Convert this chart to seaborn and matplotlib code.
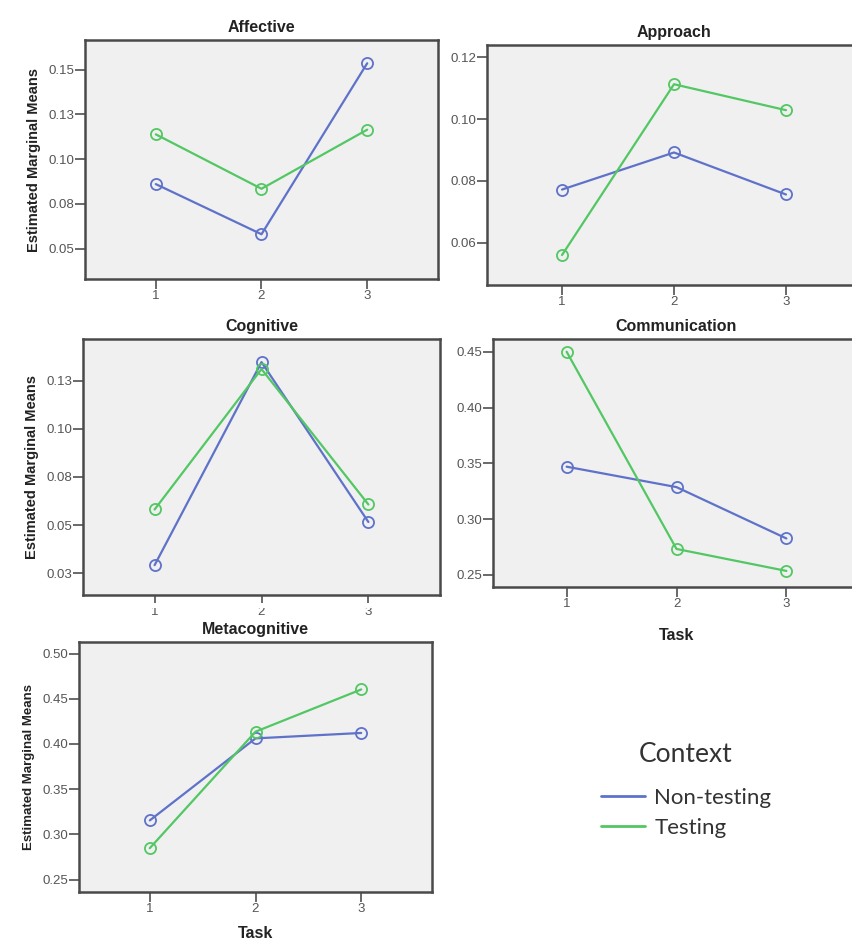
import numpy as np
import matplotlib
matplotlib.use("Agg")
import matplotlib.pyplot as plt
from matplotlib.lines import Line2D
from matplotlib.patches import Rectangle
import pandas as pd
import seaborn as sns

# values
tasks = [1, 2, 3]
contexts = ["Non-testing", "Testing"]

affective_nontest = [0.086, 0.058, 0.1535]
affective_test = [0.1138, 0.0834, 0.1164]
approach_nontest = [0.0772, 0.0892, 0.0756]
approach_test = [0.056, 0.1113, 0.1029]
cognitive_nontest = [0.0292, 0.1346, 0.0516]
cognitive_test = [0.0581, 0.1310, 0.0607]
communication_nontest = [0.347, 0.3287, 0.2827]
communication_test = [0.450, 0.2733, 0.2536]
metacog_nontest = [0.3155, 0.4062, 0.4122]
metacog_test = [0.2848, 0.4136, 0.4603]

# y ticks (SPSS style rounding of labels)
affective_ticks = [0.05, 0.075, 0.10, 0.125, 0.15]
affective_labels = ["0.05", "0.08", "0.10", "0.13", "0.15"]
approach_ticks = [0.06, 0.08, 0.10, 0.12]
approach_labels = ["0.06", "0.08", "0.10", "0.12"]
cognitive_ticks = [0.025, 0.05, 0.075, 0.10, 0.125]
cognitive_labels = ["0.03", "0.05", "0.08", "0.10", "0.13"]
communication_ticks = [0.25, 0.30, 0.35, 0.40, 0.45]
communication_labels = ["0.25", "0.30", "0.35", "0.40", "0.45"]
metacog_ticks = [0.25, 0.30, 0.35, 0.40, 0.45, 0.50]
metacog_labels = ["0.25", "0.30", "0.35", "0.40", "0.45", "0.50"]

colors = {"Non-testing": "#5f72c9", "Testing": "#52c763"}

sns.set_theme(style="white")
plt.rcParams["font.family"] = ["Liberation Sans", "DejaVu Sans"]

W, H = 853, 942
fig = plt.figure(figsize=(W / 100, H / 100), dpi=100)


def px_axes(x0, y0, x1, y1):
    # pixel box -> figure fraction
    return fig.add_axes([x0 / W, 1 - y1 / H, (x1 - x0) / W, (y1 - y0) / H])


def panel(ax, title, nontest, test, ylim, ticks, labels, ylabel=None, xlabel=None):
    df = pd.DataFrame({
        "Task": tasks * 2,
        "Mean": nontest + test,
        "Context": [contexts[0]] * 3 + [contexts[1]] * 3,
    })
    sns.lineplot(data=df, x="Task", y="Mean", hue="Context", palette=colors,
                 marker="o", markersize=8, markerfacecolor="none",
                 linewidth=1.6, ax=ax, legend=False)
    for ln in ax.lines:
        ln.set_markeredgecolor(ln.get_color())
        ln.set_markeredgewidth(1.3)
    ax.set_facecolor("#f0f0f0")
    ax.set_xlim(0.33, 3.67)
    ax.set_ylim(*ylim)
    ax.set_xticks(tasks)
    ax.set_xticklabels([str(t) for t in tasks])
    ax.set_yticks(ticks)
    ax.set_yticklabels(labels)
    ax.tick_params(axis="both", direction="out", length=7, width=1.2,
                   color="#505050", labelcolor="#555555", labelsize=9.5, pad=1,
                   bottom=True, left=True)
    for s in ax.spines.values():
        s.set_color("#4a4a4a")
        s.set_linewidth(1.8)
    ax.set_title(title, fontsize=11.5, fontweight="bold", color="#222222", pad=6)
    if ylabel:
        ax.set_ylabel("Estimated Marginal Means", fontsize=ylabel, fontweight="bold",
                      color="#222222", labelpad=5)
    else:
        ax.set_ylabel("")
    if xlabel:
        ax.set_xlabel("Task", fontsize=11.5, fontweight="bold", color="#222222", labelpad=xlabel)
    else:
        ax.set_xlabel("")


ax1 = px_axes(85, 40, 438, 279)
panel(ax1, "Affective", affective_nontest, affective_test, (0.033, 0.1665),
      affective_ticks, affective_labels, ylabel=10.5)

ax2 = px_axes(487, 45, 861, 285)
panel(ax2, "Approach", approach_nontest, approach_test, (0.0463, 0.124),
      approach_ticks, approach_labels)

ax3 = px_axes(83, 339, 440, 595)
panel(ax3, "Cognitive", cognitive_nontest, cognitive_test, (0.0137, 0.1466),
      cognitive_ticks, cognitive_labels, ylabel=10.5)

ax4 = px_axes(493, 339, 860, 587)
panel(ax4, "Communication", communication_nontest, communication_test, (0.2392, 0.4614),
      communication_ticks, communication_labels, xlabel=13)

ax5 = px_axes(79, 642, 432, 892)
panel(ax5, "Metacognitive", metacog_nontest, metacog_test, (0.2363, 0.5128),
      metacog_ticks, metacog_labels, ylabel=9.5, xlabel=8)

# the Cognitive tick labels are half hidden in the original screenshot
fig.add_artist(Rectangle((100 / W, 1 - 608 / H), 330 / W, 5 / H,
                         transform=fig.transFigure, facecolor="white",
                         edgecolor="none", zorder=10))

fig.text(686 / W, 1 - 755 / H, "Context", ha="center", va="center",
         fontsize=19, color="#333333", family=["Lato", "DejaVu Sans"])
handles = [Line2D([0], [0], color=colors[c], lw=2) for c in contexts]
leg = fig.legend(handles, contexts, loc="center",
                 bbox_to_anchor=(686 / W, 1 - 813 / H), frameon=False,
                 fontsize=16, handlelength=2.0,
                 handletextpad=0.4, labelspacing=0.45)
for t in leg.get_texts():
    t.set_color("#333333")
    t.set_family(["Lato", "DejaVu Sans"])

fig.savefig("out.png", dpi=100, facecolor="white")
